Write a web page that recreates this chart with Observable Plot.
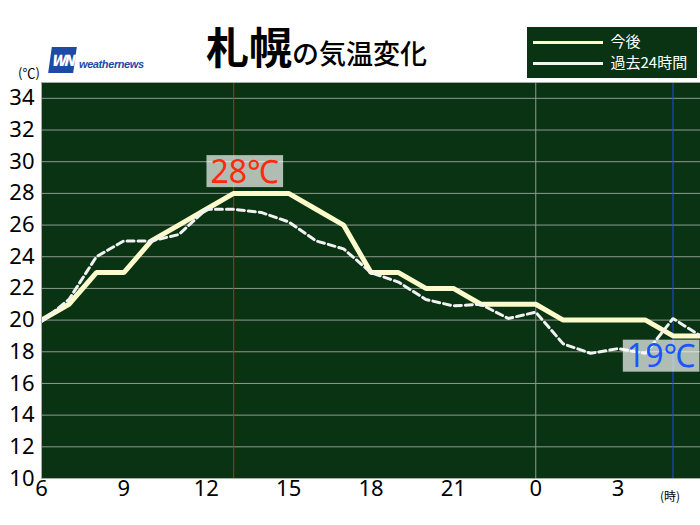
<!DOCTYPE html>
<html><head><meta charset="utf-8">
<script src="https://cdn.jsdelivr.net/npm/d3@7"></script>
<script src="https://cdn.jsdelivr.net/npm/@observablehq/plot@0.6"></script>
<style>
body{margin:0;background:#fff;}
#wrap{position:relative;width:700px;height:525px;overflow:hidden;font-family:"Noto Sans CJK JP","Noto Sans",sans-serif;}
#wrap > svg{position:absolute;left:0;top:0;}
.ov{position:absolute;white-space:nowrap;}
</style>
</head><body>
<div id="wrap">
  <div class="ov" id="title" style="left:206px;top:24px;line-height:1;color:#000;">
    <span style="font-size:43px;font-weight:700;">札幌</span><span style="font-size:27px;font-weight:500;">の気温変化</span>
  </div>
  <div class="ov" style="left:50px;top:47px;width:25px;height:26px;background:#1d4aa6;transform:skewX(-8deg);"></div>
  <div class="ov" style="left:48px;top:50px;width:28px;font-size:15px;font-weight:900;font-style:italic;color:#fff;letter-spacing:-2px;text-align:center;line-height:20px;">WN</div>
  <div class="ov" style="left:79px;top:57px;font-size:11px;font-weight:700;font-style:italic;color:#1d4aa6;line-height:14px;letter-spacing:-0.4px;font-family:'Liberation Sans',sans-serif;">weathernews</div>
  <div class="ov" style="left:18px;top:66px;font-size:13px;line-height:14px;color:#000;">(℃)</div>
  <div class="ov" style="left:660px;top:489px;font-size:12px;line-height:14px;color:#000;">(時)</div>
  <div class="ov" id="legend" style="left:527px;top:27px;width:170px;height:51px;background:#0a3314;"></div>
</div>
<script>
// ---- data ----
const hours = [6,7,8,9,10,11,12,13,14,15,16,17,18,19,20,21,22,23,24,25,26,27,28,29,30];
const forecastTemps = [20,21,23,23,25,26,27,28,28,28,27,26,23,23,22,22,21,21,21,20,20,20,20,19,19];
const pastTemps = [19.9,21.3,24,25,25,25.4,27,27,26.8,26.2,25,24.5,23,22.4,21.3,20.9,21,20.1,20.5,18.5,17.9,18.2,17.9,20.1,19];
const xTicks = [6,9,12,15,18,21,24,27];
const yTicks = [10,12,14,16,18,20,22,24,26,28,30,32,34];
const seriesNames = ["今後","過去24時間"];
const maxHour = 13, maxTemp = 28, maxLabel = "28℃";
const nowHour = 29, nowTemp = 19, nowLabel = "19℃";
const midnight = [24];

// ---- styles ----
const bg = "#0a3314";
const gridColor = "#8d9b8f";
const solidColor = "#fdfbcc";
const dashColor = "#f2f2f2";
const labelFont = "'Noto Sans', 'Noto Sans CJK JP', sans-serif";

const forecast = hours.map((h,i)=>({h, t: forecastTemps[i]}));
const past = hours.map((h,i)=>({h, t: pastTemps[i]}));

const chart = Plot.plot({
  width: 700, height: 525,
  marginLeft: 41, marginRight: 0, marginTop: 82, marginBottom: 47,
  style: {fontSize: "22px", fontFamily: labelFont, color: "#000", background: "transparent", overflow: "visible"},
  x: {domain: [6, 30], ticks: xTicks, tickFormat: d => String(d % 24), tickSize: 0, tickPadding: 2, label: null},
  y: {domain: [10, 35], ticks: yTicks, tickSize: 0, tickPadding: 7, label: null},
  marks: [
    Plot.frame({fill: bg, stroke: null}),
    Plot.gridY(yTicks.filter(d => d > 10), {stroke: gridColor, strokeOpacity: 1, strokeWidth: 1}),
    Plot.ruleX(midnight, {stroke: gridColor, strokeWidth: 1}),
    Plot.ruleX([maxHour], {stroke: "#c0281a", strokeWidth: 1}),
    Plot.ruleX([nowHour], {stroke: "#2244ff", strokeWidth: 1}),
    Plot.line(forecast, {x: "h", y: "t", stroke: solidColor, strokeWidth: 5, strokeLinejoin: "miter", strokeLinecap: "butt"}),
    Plot.line(past, {x: "h", y: "t", stroke: dashColor, strokeWidth: 3, strokeDasharray: "7,4", strokeLinejoin: "miter"}),
    Plot.frame({stroke: "#a8aca8", strokeWidth: 1}),
    Plot.text([{h: maxHour, t: maxTemp, s: maxLabel}], {x: "h", y: "t", text: "s", fill: "#ff2a0a", fontSize: 32, fontFamily: labelFont, dx: 11, dy: -21}),
    Plot.text([{h: nowHour, t: nowTemp, s: nowLabel}], {x: "h", y: "t", text: "s", fill: "#1a55ff", fontSize: 32, fontFamily: labelFont, dx: -12, dy: 21})
  ]
});
document.getElementById("wrap").prepend(chart);

// background boxes behind the temperature labels
function addBoxes() {
  chart.querySelectorAll("text").forEach(t => {
    const s = t.textContent;
    if (s !== maxLabel && s !== nowLabel) return;
    if (t.previousSibling && t.previousSibling.nodeName === "rect" && t.previousSibling.dataset.box) return;
    const b = t.getBBox();
    const r = document.createElementNS("http://www.w3.org/2000/svg", "rect");
    const cy = b.y + b.height / 2;
    r.setAttribute("x", b.x - 4);
    r.setAttribute("width", b.width + 8);
    r.setAttribute("y", cy - 15);
    r.setAttribute("height", 32);
    r.setAttribute("fill", "#ffffff");
    r.setAttribute("fill-opacity", 0.68);
    r.dataset.box = "1";
    if (t.getAttribute("transform")) r.setAttribute("transform", t.getAttribute("transform"));
    t.parentNode.insertBefore(r, t);
  });
}
addBoxes();

// legend (drawn with Plot inside the legend box)
const legendData = seriesNames.map((name, i) => ({name, i}));
const legend = Plot.plot({
  width: 170, height: 51, margin: 0,
  x: {domain: [0, 170], axis: null}, y: {domain: [0, 51], axis: null, reverse: true},
  style: {background: "transparent", fontFamily: "'Noto Sans CJK JP', sans-serif"},
  marks: [
    Plot.ruleY(legendData, {y: d => 15 + d.i * 21, x1: 6, x2: 76, stroke: d => d.i === 0 ? solidColor : dashColor, strokeWidth: 3, strokeDasharray: d => d.i === 0 ? null : "5,3"}),
    Plot.text(legendData, {y: d => 15 + d.i * 21, x: 83, text: "name", fill: "#fff", fontSize: 15, textAnchor: "start"})
  ]
});
legend.style.position = "absolute"; legend.style.left = "0"; legend.style.top = "0";
document.getElementById("legend").append(legend);
</script>
</body></html>
